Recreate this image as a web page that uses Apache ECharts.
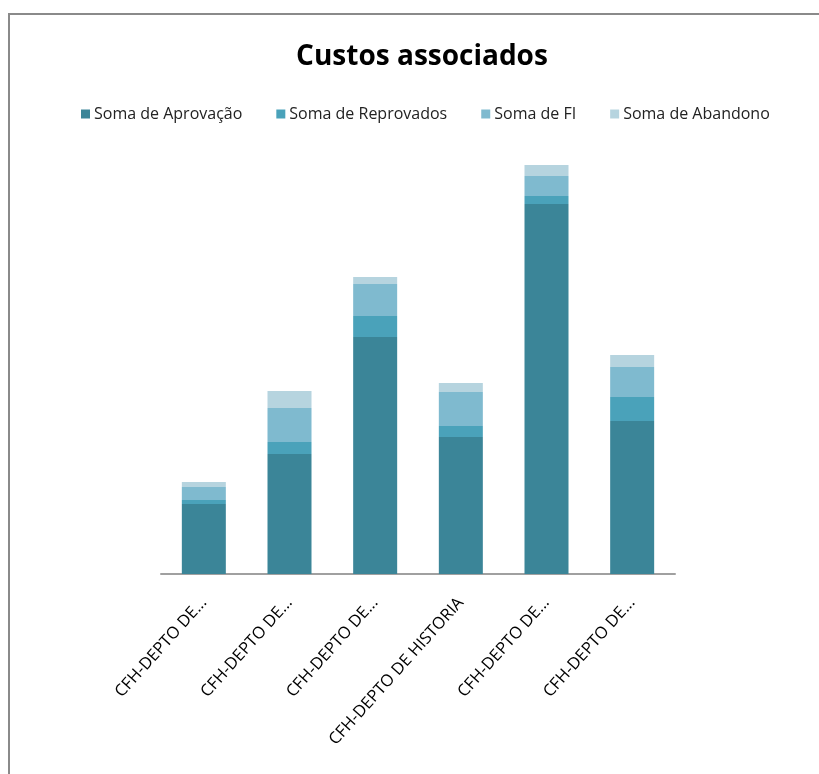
<!DOCTYPE html>
<html lang="pt">

<head>
    <meta charset="UTF-8">
    <title>Custos associados</title>
    <style>
        html, body { margin: 0; padding: 0; background: #fff; }
        #chart { width: 819px; height: 774px; }
    </style>
</head>

<body>
    <div id="chart"></div>

    <script src="https://cdn.jsdelivr.net/npm/echarts@6/dist/echarts.min.js"></script>
    <script>
        // dados
        var categorias = ['CFH-DEPTO DE...', 'CFH-DEPTO DE...', 'CFH-DEPTO DE...', 'CFH-DEPTO DE HISTORIA', 'CFH-DEPTO DE...', 'CFH-DEPTO DE...'];
        var aprovacao = [70, 120, 237, 137, 370, 153];
        var reprovados = [4, 12, 21, 11, 8, 24];
        var fi = [13, 34, 32, 34, 20, 30];
        var abandono = [5, 17, 7, 9, 11, 12];

        var nomes = ['Soma de Aprovação', 'Soma de Reprovados', 'Soma de FI', 'Soma de Abandono'];
        var cores = ['#3b8598', '#4aa2ba', '#7fbacf', '#b6d4df'];

        var chart = echarts.init(document.getElementById('chart'));

        var series = [aprovacao, reprovados, fi, abandono].map(function (d, i) {
            return {
                name: nomes[i],
                type: 'bar',
                stack: 'total',
                barWidth: 44,
                data: d,
                itemStyle: { color: cores[i] }
            };
        });

        var option = {
            backgroundColor: '#fff',
            animation: false,
            color: cores,
            textStyle: { fontFamily: 'Open Sans' },
            graphic: [{
                type: 'rect',
                shape: { x: 9, y: 14, width: 900, height: 900 },
                style: { fill: 'none', stroke: '#8a8a8a', lineWidth: 2 }
            }],
            title: {
                text: 'Custos associados',
                left: 417,
                textAlign: 'center',
                top: 38,
                textStyle: { fontSize: 28, fontWeight: 'bold', color: '#000', fontFamily: 'Open Sans' }
            },
            legend: {
                data: nomes,
                left: 76,
                top: 101,
                itemWidth: 9,
                itemHeight: 9,
                itemGap: 34,
                icon: 'rect',
                textStyle: { fontSize: 16, color: '#222', padding: [0, 0, 0, -1] }
            },
            grid: {
                left: 161,
                right: 144,
                top: 154,
                bottom: 200
            },
            xAxis: {
                type: 'category',
                data: categorias,
                axisLine: { lineStyle: { color: '#a0a0a0', width: 2 } },
                axisTick: { show: false },
                axisLabel: {
                    interval: 0,
                    rotate: 48,
                    fontSize: 16.5,
                    color: '#000',
                    margin: 26
                }
            },
            yAxis: {
                type: 'value',
                min: 0,
                max: 420,
                show: false,
                splitLine: { show: false }
            },
            series: series
        };

        chart.setOption(option, true);
    </script>
</body>

</html>
